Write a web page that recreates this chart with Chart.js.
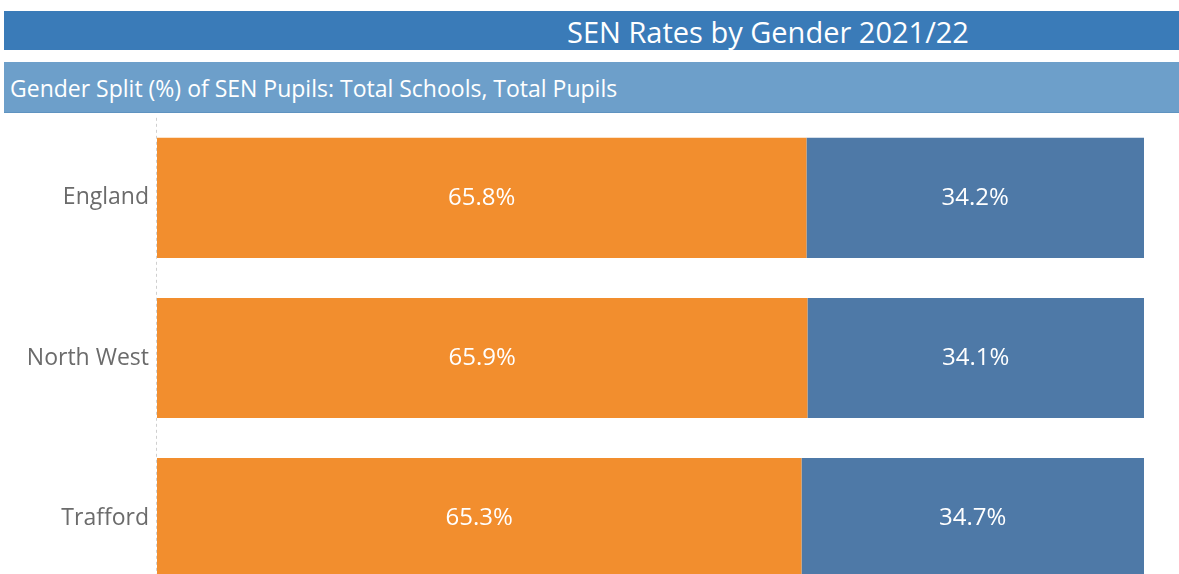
<!DOCTYPE html>
<html>
<head>
<meta charset="utf-8">
<script src="https://cdn.jsdelivr.net/npm/chart.js@4"></script>
<style>
  html, body { margin: 0; padding: 0; width: 1179px; height: 574px; overflow: hidden; background: #fff; font-family: "Open Sans", sans-serif; }
  #titleBar { position: absolute; left: 4px; top: 11px; width: 1175px; height: 39px; background: #3a7bb8; z-index: 2; }
  #titleText { position: absolute; left: 350px; top: 0; width: 828px; height: 39px; line-height: 42px; text-align: center; color: #fff; font-size: 29px; white-space: nowrap; }
  #subBar { position: absolute; left: 4px; top: 62px; width: 1175px; height: 50px; background: #6d9fca; border-bottom: 1px solid #5f93c0; z-index: 2; }
  #subText { position: absolute; left: 6px; top: 0; height: 50px; line-height: 52px; color: #fff; font-size: 23px; white-space: nowrap; }
  #c { position: absolute; left: 0; top: 96px; display: block; z-index: 1; }
</style>
</head>
<body>
<div id="titleBar"><div id="titleText">SEN Rates by Gender 2021/22</div></div>
<div id="subBar"><div id="subText">Gender Split (%) of SEN Pupils: Total Schools, Total Pupils</div></div>
<canvas id="c" width="1179" height="524" style="width:1179px;height:524px"></canvas>
<script>
const categories = ['England', 'North West', 'Trafford'];
const boysValues = [65.8, 65.9, 65.3];
const girlsValues = [34.2, 34.1, 34.7];
const seriesNames = ['Boys', 'Girls'];

const barLabels = {
  id: 'barLabels',
  afterDatasetsDraw(chart) {
    const ctx = chart.ctx;
    ctx.save();
    ctx.font = '24px "Open Sans", sans-serif';
    ctx.fillStyle = '#ffffff';
    ctx.textAlign = 'center';
    ctx.textBaseline = 'middle';
    chart.data.datasets.forEach((ds, i) => {
      chart.getDatasetMeta(i).data.forEach((el, j) => {
        const p = el.getCenterPoint();
        ctx.fillText(ds.data[j].toFixed(1) + '%', p.x, p.y);
      });
    });
    ctx.restore();
  }
};

const dashedAxis = {
  id: 'dashedAxis',
  beforeDatasetsDraw(chart) {
    const ctx = chart.ctx, a = chart.chartArea;
    ctx.save();
    ctx.strokeStyle = '#cfcfcf';
    ctx.lineWidth = 1;
    ctx.setLineDash([3, 3]);
    ctx.beginPath();
    ctx.moveTo(a.left - 0.5, a.top);
    ctx.lineTo(a.left - 0.5, a.bottom);
    ctx.stroke();
    ctx.restore();
  }
};

new Chart(document.getElementById('c'), {
  type: 'bar',
  data: {
    labels: categories,
    datasets: [
      { label: seriesNames[0], data: boysValues, backgroundColor: '#f28e2e' },
      { label: seriesNames[1], data: girlsValues, backgroundColor: '#4e79a7' }
    ]
  },
  options: {
    indexAxis: 'y',
    responsive: false,
    maintainAspectRatio: false,
    animation: false,
    devicePixelRatio: 1,
    datasets: { bar: { categoryPercentage: 0.75, barPercentage: 1.0 } },
    layout: { autoPadding: false, padding: { left: 0, right: 35, top: 0, bottom: 0 } },
    plugins: { legend: { display: false }, tooltip: { enabled: false } },
    scales: {
      x: { stacked: true, min: 0, max: 100, display: false },
      y: {
        stacked: true,
        grid: { display: false, drawTicks: false },
        border: { display: false },
        ticks: { color: '#6b6b6b', font: { family: '"Open Sans", sans-serif', size: 23 }, padding: 8 },
        afterFit(scale) { scale.width = 157; }
      }
    }
  },
  plugins: [barLabels, dashedAxis]
});
</script>
</body>
</html>
